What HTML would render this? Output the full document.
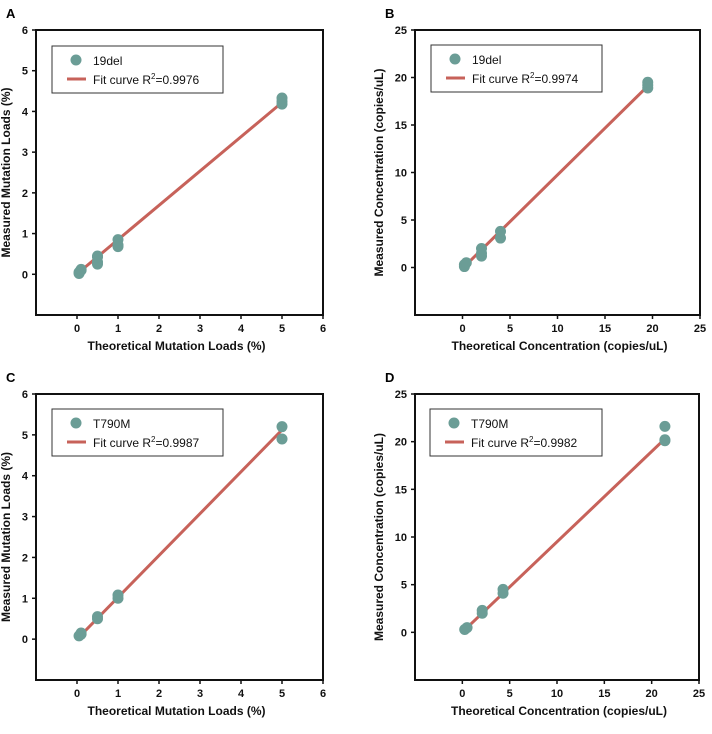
<!DOCTYPE html>
<html><head><meta charset="utf-8"><style>
body{margin:0;background:#fff;width:712px;height:729px;overflow:hidden}
svg{font-family:"Liberation Sans",Arial,sans-serif}
.t{font-weight:bold;font-size:11px;fill:#111}
.at{font-weight:bold;font-size:12px;fill:#111}
.lg{font-size:12px;fill:#111}
</style></head><body>
<svg id="fig" width="712" height="729" viewBox="0 0 712 729"></svg>
<script>
// Panel A
const aX = [0.05,0.05,0.1,0.1, 0.5,0.5,0.5,0.5, 1,1,1, 5,5,5];
const aY = [0.02,0.05,0.1,0.12, 0.25,0.3,0.42,0.45, 0.68,0.72,0.85, 4.18,4.25,4.33];
const aFit = [[0.05,0.05],[5,4.22]];
// Panel B
const bX = [0.2,0.2,0.4, 2,2,2, 4,4, 19.5,19.5,19.5];
const bY = [0.1,0.3,0.5, 1.2,1.5,2.0, 3.1,3.8, 18.9,19.2,19.5];
const bFit = [[0.2,0.1],[19.5,19.1]];
// Panel C
const cX = [0.05,0.1,0.1, 0.5,0.5, 1,1, 5,5];
const cY = [0.08,0.12,0.15, 0.5,0.55, 1.0,1.08, 4.9,5.2];
const cFit = [[0.05,0.05],[5,5.12]];
// Panel D
const dX = [0.25,0.5, 2.1,2.1, 4.3,4.3, 21.4,21.4,21.4];
const dY = [0.3,0.5, 2.0,2.3, 4.1,4.5, 20.1,20.2,21.6];
const dFit = [[0.3,0.3],[21.4,20.3]];
const smallTicks = ["0","1","2","3","4","5","6"];
const bigTicks = ["0","5","10","15","20","25"];

const NS="http://www.w3.org/2000/svg";
const svg=document.getElementById('fig');
function mk(tag,attrs,parent,txt){const e=document.createElementNS(NS,tag);for(const k in attrs)e.setAttribute(k,attrs[k]);if(txt!==undefined)e.textContent=txt;(parent||svg).appendChild(e);return e;}

function panel(p){
  const g=mk('g',{});
  
  
  const sx=v=>p.L+(v-p.min)/(p.max-p.min)*(p.R-p.L);
  const sy=v=>p.B-(v-p.min)/(p.max-p.min)*(p.B-p.T);
  const lab=mk('text',{x:p.L-30,y:p.T-12,'font-weight':'bold','font-size':'13'},g,p.id);
  
  
  const fr=mk('rect',{x:p.L,y:p.T,width:p.R-p.L,height:p.B-p.T,fill:'none',stroke:'#111','stroke-width':2},g);
  
  
  p.ticks.forEach(t=>{const v=+t;
    mk('line',{x1:sx(v),x2:sx(v),y1:p.B,y2:p.B+4,stroke:'#111','stroke-width':1.5},g);
    const xt=mk('text',{x:sx(v),y:p.B+17,'text-anchor':'middle',class:'t'},g,t);
    
    
    mk('line',{x1:p.L-4,x2:p.L,y1:sy(v),y2:sy(v),stroke:'#111','stroke-width':1.5},g);
    const yt=mk('text',{x:p.L-8,y:sy(v)+4,'text-anchor':'end',class:'t'},g,t);
    
    
  });
  const xtt=mk('text',{x:(p.L+p.R)/2+(p.big?2:-3),y:p.B+35,'text-anchor':'middle',class:'at'},g,p.xt);
  
  
  const yx=p.L-(p.big?32:26), yc=(p.T+p.B)/2;
  const ytt=mk('text',{x:yx,y:yc,'text-anchor':'middle',class:'at',transform:`rotate(-90 ${yx} ${yc})`},g,p.yt);
  
  
  const fl=mk('line',{x1:sx(p.fit[0][0]),y1:sy(p.fit[0][1]),x2:sx(p.fit[1][0]),y2:sy(p.fit[1][1]),stroke:'#c7625a','stroke-width':3},g);
  
  
  p.xs.forEach((x,i)=>{
    const c=mk('circle',{cx:sx(x),cy:sy(p.ys[i]),r:5.5,fill:'#6b9d96'},g);
    
    
  });
  const lg=mk('g',{},g);
  
  
  mk('rect',{x:p.lx,y:p.ly,width:p.lw,height:47,fill:'#fff',stroke:'#333','stroke-width':1},lg);
  mk('circle',{cx:p.lx+24,cy:p.ly+14,r:5.5,fill:'#6b9d96'},lg);
  mk('text',{x:p.lx+41,y:p.ly+19,class:'lg'},lg,p.name);
  mk('line',{x1:p.lx+15,x2:p.lx+34,y1:p.ly+33,y2:p.ly+33,stroke:'#c7625a','stroke-width':3},lg);
  const ft=mk('text',{x:p.lx+41,y:p.ly+38,class:'lg'},lg);
  ft.innerHTML='Fit curve R<tspan dy="-5" font-size="8">2</tspan><tspan dy="5">='+p.r2+'</tspan>';
}
panel({id:'A',L:36,R:323,T:30,B:315,min:-1,max:6,ticks:smallTicks,xs:aX,ys:aY,fit:aFit,name:'19del',r2:'0.9976',lx:52,ly:46,lw:171,xt:'Theoretical Mutation Loads (%)',yt:'Measured Mutation Loads (%)'});
panel({id:'B',big:1,L:415,R:700,T:30,B:315,min:-5,max:25,ticks:bigTicks,xs:bX,ys:bY,fit:bFit,name:'19del',r2:'0.9974',lx:431,ly:45,lw:171,xt:'Theoretical Concentration (copies/uL)',yt:'Measured Concentration (copies/uL)'});
panel({id:'C',L:36,R:323,T:394,B:680,min:-1,max:6,ticks:smallTicks,xs:cX,ys:cY,fit:cFit,name:'T790M',r2:'0.9987',lx:52,ly:409,lw:171,xt:'Theoretical Mutation Loads (%)',yt:'Measured Mutation Loads (%)'});
panel({id:'D',big:1,L:415,R:699,T:394,B:680,min:-5,max:25,ticks:bigTicks,xs:dX,ys:dY,fit:dFit,name:'T790M',r2:'0.9982',lx:430,ly:409,lw:172,xt:'Theoretical Concentration (copies/uL)',yt:'Measured Concentration (copies/uL)'});
</script>
</body></html>
